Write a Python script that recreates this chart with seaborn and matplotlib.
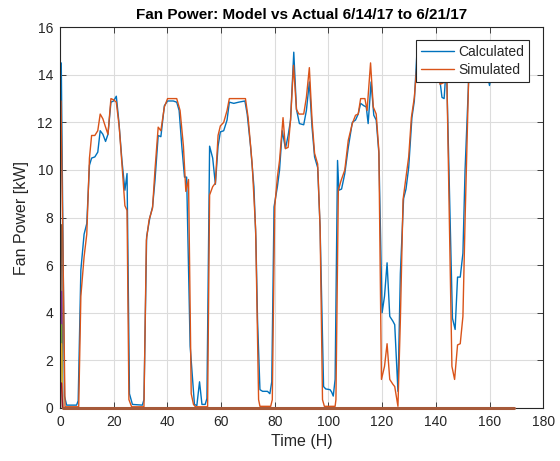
import numpy as np
import pandas as pd
import seaborn as sns
import matplotlib
matplotlib.use("Agg")
import matplotlib.pyplot as plt
from matplotlib.lines import Line2D

# values (time in hours, power in kW)
calc_time = [0.5, 1.7, 2.5, 6.2, 6.8, 7.8, 9.0, 10.0, 11.0, 11.8, 13.0, 14.1, 15.0, 16.0, 17.0,
             17.9, 19.0, 20.0, 21.0, 21.9, 23.1, 24.2, 25.0, 25.9, 27.0, 30.7, 31.3, 32.3, 33.5,
             34.5, 35.4, 36.6, 37.6, 38.9, 40.1, 42.2, 43.5, 44.4, 45.4, 46.4, 47.2, 48.5, 50.1,
             51.0, 52.0, 52.9, 54.1, 54.75, 55.75, 56.9, 57.9, 58.9, 59.75, 61.0, 62.25, 63.1,
             64.75, 66.6, 68.9, 69.75, 71.0, 72.25, 73.0, 73.6, 74.5, 75.5, 77.3, 78.2, 78.9,
             79.75, 81.0, 81.8, 82.8, 84.0, 85.0, 85.9, 87.1, 88.1, 89.2, 90.8, 91.8, 92.9, 93.9,
             94.85, 96.0, 96.9, 98.2, 99.0, 100.6, 101.2, 101.8, 102.5, 103.4, 103.9, 104.9,
             106.1, 107.4, 108.9, 110.1, 111.1, 112.0, 113.2, 114.1, 114.8, 115.9, 116.9, 117.8,
             118.8, 120.0, 120.9, 121.85, 122.85, 124.0, 124.7, 125.9, 126.8, 128.0, 128.9,
             129.9, 131.1, 132.0, 133.0, 134.2, 137.5, 140.8, 141.6, 142.3, 143.1, 143.5, 144.0,
             146.2, 147.2, 148.1, 149.1, 150.1, 150.9, 152.2, 153.5, 156.0, 159.3, 160.0, 160.7,
             165.0, 169.0]
calc_power = [14.5, 0.5, 0.12, 0.12, 0.3, 5.8, 7.3, 7.75, 10.2, 10.5, 10.55, 10.75, 11.65, 11.5,
              11.2, 11.5, 12.85, 12.9, 13.1, 12.1, 10.4, 9.15, 9.85, 0.6, 0.15, 0.12, 0.35, 7.2,
              8.0, 8.45, 9.55, 11.45, 11.4, 12.7, 12.9, 12.9, 12.85, 12.5, 11.0, 9.7, 9.7, 2.6,
              0.15, 0.1, 1.1, 0.15, 0.15, 0.4, 11.0, 10.5, 9.4, 11.0, 11.6, 11.65, 12.1, 12.85,
              12.8, 12.85, 12.9, 12.35, 11.0, 9.3, 7.05, 3.7, 0.77, 0.7, 0.7, 0.6, 1.1, 8.45,
              9.3, 10.0, 11.65, 10.9, 11.45, 12.1, 14.95, 12.55, 11.95, 11.9, 12.5, 13.7, 11.8,
              10.55, 10.1, 7.6, 0.9, 0.8, 0.77, 0.67, 0.5, 1.2, 10.4, 9.15, 9.2, 9.85, 10.95,
              12.0, 12.1, 12.35, 12.8, 12.7, 12.65, 11.95, 13.7, 12.3, 12.1, 10.7, 4.0, 4.7, 6.1,
              3.85, 3.65, 3.5, 0.7, 5.65, 8.8, 9.2, 10.1, 12.2, 12.9, 15.0, 15.0, 14.9, 14.3,
              13.7, 13.05, 13.0, 13.7, 14.3, 3.77, 3.3, 5.5, 5.5, 6.5, 10.0, 13.7, 14.5, 14.3,
              14.0, 13.55, 14.0, 14.2, 14.0]

sim_time = [0.4, 1.9, 7.0, 7.8, 9.0, 10.0, 11.0, 11.8, 13.0, 14.1, 15.0, 16.0, 17.0, 17.9, 19.0,
            20.0, 21.0, 22.1, 23.1, 24.2, 25.0, 25.7, 26.7, 31.3, 32.2, 33.2, 34.5, 35.4, 36.6,
            37.6, 38.9, 40.1, 43.5, 44.75, 46.0, 46.9, 47.9, 48.9, 49.75, 50.5, 55.0, 55.75,
            56.9, 57.9, 58.9, 59.75, 61.0, 62.25, 63.1, 69.1, 70.1, 71.6, 72.9, 74.0, 74.5, 78.5,
            79.1, 80.0, 81.0, 81.8, 83.1, 84.0, 85.0, 85.9, 87.0, 88.1, 89.0, 90.8, 91.8, 92.9,
            93.9, 94.85, 96.0, 96.9, 97.8, 98.5, 102.5, 102.8, 103.7, 104.7, 106.1, 107.4, 108.9,
            110.1, 111.1, 112.0, 113.6, 114.4, 115.7, 116.7, 117.8, 118.8, 119.75, 120.9, 121.85,
            122.85, 124.0, 124.7, 125.9, 126.8, 127.8, 128.9, 129.9, 130.9, 132.0, 133.0, 134.5,
            138.0, 140.8, 141.6, 143.5, 144.1, 146.0, 147.0, 148.1, 149.1, 150.1, 150.9, 152.2,
            153.5, 160.0, 165.0, 169.0]
sim_power = [12.9, 0.05, 0.05, 4.7, 6.35, 7.3, 10.5, 11.45, 11.45, 11.65, 12.35, 12.15, 11.8, 11.5,
             13.0, 12.95, 12.85, 11.8, 10.25, 8.5, 8.3, 0.35, 0.05, 0.05, 7.05, 7.9, 8.4, 10.0,
             11.8, 11.65, 12.65, 13.0, 13.0, 12.5, 11.0, 9.1, 9.6, 0.6, 0.15, 0.05, 0.05, 8.95,
             9.3, 9.45, 11.45, 11.85, 12.0, 12.5, 13.0, 13.0, 12.2, 10.25, 7.5, 0.35, 0.07, 0.07,
             0.35, 8.45, 9.7, 10.4, 12.2, 10.9, 10.95, 12.1, 14.4, 12.55, 12.35, 12.35, 13.05,
             14.3, 12.1, 10.7, 10.25, 7.6, 0.35, 0.07, 0.07, 0.35, 9.15, 9.55, 10.0, 11.25, 11.95,
             12.3, 12.35, 13.0, 13.0, 12.5, 14.5, 12.65, 12.35, 10.8, 1.2, 1.75, 2.7, 1.2, 1.0,
             0.9, 0.07, 3.7, 8.75, 9.7, 10.55, 12.2, 13.05, 14.45, 15.0, 14.9, 14.2, 13.6, 13.7,
             14.0, 1.75, 1.2, 2.65, 2.7, 3.85, 7.9, 13.7, 14.6, 14.4, 14.5, 14.3]

# the other columns of the matrix: short spikes at the start, then zero
extra_start = [7.7, 4.9, 3.5, 2.7, 1.05]
extra_colors = ["#8c5a3c", "#7E2F8E", "#77AC30", "#EDB120", "#A2142F"]
zero_time = [1.0, 169.0]
zero_power = [0.0, 0.0]

calc_df = pd.DataFrame({"t": calc_time, "p": calc_power})
sim_df = pd.DataFrame({"t": sim_time, "p": sim_power})
zero_df = pd.DataFrame({"t": zero_time, "p": zero_power})

sns.set_theme(style="whitegrid")
plt.rcParams["font.family"] = ["Liberation Sans", "DejaVu Sans"]

fig = plt.figure(figsize=(5.6, 4.61), dpi=100)
ax = fig.add_axes([0.107, 0.115, 0.863, 0.826])

blue = "#0072BD"
orange = "#D95319"
sns.lineplot(data=calc_df, x="t", y="p", ax=ax, color=blue, lw=1.0, estimator=None, sort=False)
sns.lineplot(data=sim_df, x="t", y="p", ax=ax, color=orange, lw=1.0, estimator=None, sort=False)
for v, c in zip(extra_start, extra_colors):
    sdf = pd.DataFrame({"t": [0.6, 1.0], "p": [v, 0.0]})
    sns.lineplot(data=sdf, x="t", y="p", ax=ax, color=c, lw=1.0, estimator=None, sort=False)
zl = sns.lineplot(data=zero_df, x="t", y="p", ax=ax, color="#A65A3A", lw=2.2, estimator=None,
                  sort=False)
zl.lines[-1].set_clip_on(False)
zl.lines[-1].set_zorder(5)

ax.set_xlim(0, 180)
ax.set_ylim(0, 16)
ax.set_xticks(np.arange(0, 181, 20))
ax.set_yticks(np.arange(0, 17, 2))
ax.grid(True, color="#dcdcdc", lw=0.8)
ax.set_facecolor("white")
for s in ax.spines.values():
    s.set_color("#262626")
    s.set_linewidth(0.8)
ax.tick_params(direction="in", length=4, width=0.6, colors="#262626", labelsize=10,
               top=True, right=True, bottom=True, left=True, pad=5)
ax.set_xlabel("Time (H)", fontsize=11.5, color="#262626", labelpad=4)
ax.set_ylabel("Fan Power [kW]", fontsize=11.5, color="#262626", labelpad=6)
ax.set_title("Fan Power: Model vs Actual 6/14/17 to 6/21/17", fontsize=11, fontweight="bold",
             color="black", pad=6)

handles = [Line2D([], [], color=blue, lw=1.0), Line2D([], [], color=orange, lw=1.0)]
leg = ax.legend(handles, ["Calculated", "Simulated"], loc="upper right",
                bbox_to_anchor=(0.971, 0.966), borderaxespad=0, fontsize=10, frameon=True,
                fancybox=False, framealpha=1, edgecolor="#262626", handlelength=2.4,
                handletextpad=0.3, borderpad=0.35, labelspacing=0.3)
leg.get_frame().set_linewidth(0.8)
leg.set_zorder(10)

fig.savefig("out.png", dpi=100)
